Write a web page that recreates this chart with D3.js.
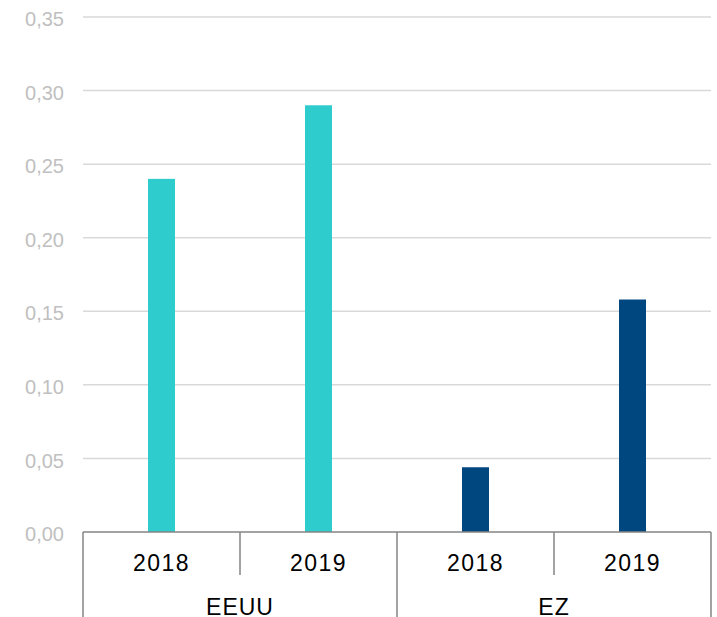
<!DOCTYPE html>
<html>
<head>
<meta charset="utf-8">
<script src="https://cdn.jsdelivr.net/npm/d3@7"></script>
<style>
  body { margin: 0; background: #fff; }
  text { font-family: "Liberation Sans", Arial, sans-serif; }
</style>
</head>
<body>
<div id="chart"></div>
<script>
// data
var groups = ["EEUU", "EZ"];
var years = ["2018", "2019"];
var valuesEEUU = [0.24, 0.29];
var valuesEZ = [0.044, 0.158];
var groupColors = ["#2ECCCC", "#00467F"];
var yTicks = [0, 0.05, 0.10, 0.15, 0.20, 0.25, 0.30, 0.35];

var rows = [];
[valuesEEUU, valuesEZ].forEach(function(vals, gi) {
    vals.forEach(function(v, yi) {
        rows.push({group: groups[gi], year: years[yi], key: groups[gi] + "|" + years[yi], value: v, color: groupColors[gi]});
    });
});

var W = 717, H = 617;
var margin = {top: 17, right: 6, bottom: 85, left: 83};
var width = W - margin.left - margin.right;
var height = H - margin.top - margin.bottom;

var svg = d3.select("#chart").append("svg")
    .attr("width", W)
    .attr("height", H)
    .append("g")
    .attr("transform", "translate(" + margin.left + "," + margin.top + ")");

var x = d3.scaleBand().domain(rows.map(function(d) { return d.key; })).range([0, width]);
var y = d3.scaleLinear().domain([0, 0.35]).range([height, 0]);
var bw = 27;

// gridlines
svg.selectAll(".grid")
    .data(yTicks.slice(1))
    .enter().append("line")
    .attr("x1", 0).attr("x2", width)
    .attr("y1", function(d) { return y(d); })
    .attr("y2", function(d) { return y(d); })
    .attr("stroke", "#d9d9d9")
    .attr("stroke-width", 1.5);

// y labels
svg.selectAll(".ylab")
    .data(yTicks)
    .enter().append("text")
    .attr("x", -19)
    .attr("y", function(d) { return y(d) + 2; })
    .attr("dy", "0.36em")
    .attr("text-anchor", "end")
    .style("font-size", "20px")
    .style("fill", "#c0c0c0")
    .text(function(d) { return d.toFixed(2).replace(".", ","); });

// bars
svg.selectAll(".bar")
    .data(rows)
    .enter().append("rect")
    .attr("x", function(d) { return x(d.key) + x.bandwidth() / 2 - bw / 2; })
    .attr("width", bw)
    .attr("y", function(d) { return y(d.value); })
    .attr("height", function(d) { return height - y(d.value); })
    .attr("fill", function(d) { return d.color; });

// axis line
svg.append("line")
    .attr("x1", 0).attr("x2", width)
    .attr("y1", height).attr("y2", height)
    .attr("stroke", "#858585").attr("stroke-width", 1.5);

// year separators (short) and group separators (long)
var bandEdges = rows.map(function(d) { return x(d.key); }).concat([width]);
bandEdges.forEach(function(e, i) {
    var isGroupEdge = (i % years.length === 0);
    svg.append("line")
        .attr("x1", e).attr("x2", e)
        .attr("y1", height)
        .attr("y2", isGroupEdge ? H - margin.top : height + 43)
        .attr("stroke", "#858585").attr("stroke-width", 1.5);
});

// year labels
svg.selectAll(".xlab")
    .data(rows)
    .enter().append("text")
    .attr("x", function(d) { return x(d.key) + x.bandwidth() / 2; })
    .attr("y", height + 39)
    .attr("text-anchor", "middle")
    .style("font-size", "23px")
    .style("letter-spacing", "1.5px")
    .style("fill", "#000")
    .text(function(d) { return d.year; });

// group labels
groups.forEach(function(g) {
    var keys = rows.filter(function(d) { return d.group === g; });
    var x0 = x(keys[0].key), x1 = x(keys[keys.length - 1].key) + x.bandwidth();
    svg.append("text")
        .attr("x", (x0 + x1) / 2)
        .attr("y", height + 83)
        .attr("text-anchor", "middle")
        .style("font-size", "23px")
        .style("letter-spacing", "1px")
        .style("fill", "#000")
        .text(g);
});
</script>
</body>
</html>
